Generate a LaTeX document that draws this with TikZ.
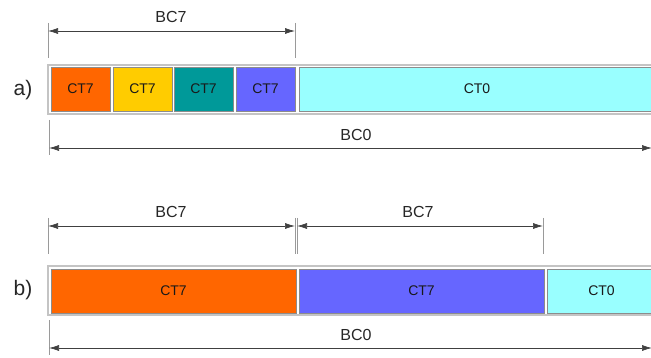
\documentclass[tikz,border=0pt]{standalone}
\usepackage{fontspec}
\setmainfont{Liberation Sans}
\usetikzlibrary{arrows.meta}
\definecolor{corange}{HTML}{FF6600}
\definecolor{cyellow}{HTML}{FFCC00}
\definecolor{cteal}{HTML}{009999}
\definecolor{cblue}{HTML}{6666FF}
\definecolor{ccyan}{HTML}{99FFFF}
\definecolor{segborder}{HTML}{8C8C8C}
\definecolor{framegray}{HTML}{C4C4C4}
\definecolor{extgray}{HTML}{9A9A9A}
\definecolor{dimline}{HTML}{404040}
\begin{document}
\begin{tikzpicture}[x=1pt,y=-1pt,
  seg/.style={draw=segborder, line width=0.9pt, inner sep=0pt, minimum height=44pt,
              font=\fontsize{14}{16}\selectfont, text=black!90},
  frame/.style={draw=framegray, line width=1.2pt},
  ext/.style={draw=extgray, line width=0.8pt},
  dimarrow/.style={draw=dimline, line width=0.7pt,
     {Latex[length=10pt,width=6pt]}-{Latex[length=10pt,width=6pt]}},
  lbl/.style={font=\fontsize{16}{18}\selectfont, text=black!85},
  rowlbl/.style={font=\fontsize{21}{23}\selectfont, text=black!85}]
\useasboundingbox (0,0) rectangle (651,358);

% ---------- row a ----------
\node[rowlbl] (la) at (23,90) {a)};
\draw[frame] (48,65) rectangle (656,114);
\node[seg, fill=corange, minimum width=59pt] (a1) at (80.5,89) {CT7};
\node[seg, fill=cyellow, minimum width=59pt] (a2) at (142.5,89) {CT7};
\node[seg, fill=cteal,   minimum width=59pt] (a3) at (203.5,89) {CT7};
\node[seg, fill=cblue,   minimum width=59pt] (a4) at (265.5,89) {CT7};
\node[seg, fill=ccyan,   minimum width=356pt] (a5) at (477,89) {CT0};

\coordinate (a7l) at (48,31);
\coordinate (a7r) at (295,31);
\draw[ext] (48,23) -- (48,58);
\draw[ext] (295,23) -- (295,58);
\draw[dimarrow] (a7l) -- (a7r);
\node[lbl] (bca7) at (171,17) {BC7};

\coordinate (a0l) at (49,148);
\coordinate (a0r) at (652,148);
\draw[ext] (49,120) -- (49,155);
\draw[dimarrow] (a0l) -- (a0r);
\node[lbl] (bca0) at (356,135) {BC0};

% ---------- row b ----------
\node[rowlbl] (lb) at (23,290) {b)};
\draw[frame] (48,266) rectangle (656,315);
\node[seg, fill=corange, minimum width=245pt] (b1) at (173.5,291) {CT7};
\node[seg, fill=cblue,   minimum width=245pt] (b2) at (421.5,291) {CT7};
\node[seg, fill=ccyan,   minimum width=109pt] (b3) at (601.5,291) {CT0};

\coordinate (b7l) at (48,226);
\coordinate (b7m1) at (295,226);
\coordinate (b7m2) at (297,226);
\coordinate (b7r) at (543,226);
\draw[ext] (48,218) -- (48,254);
\draw[ext] (295,218) -- (295,254);
\draw[ext] (297.5,218) -- (297.5,254);
\draw[ext] (543,218) -- (543,254);
\draw[dimarrow] (b7l) -- (b7m1);
\draw[dimarrow] (b7m2) -- (b7r);
\node[lbl] (bcb7a) at (171,212) {BC7};
\node[lbl] (bcb7b) at (418,212) {BC7};

\coordinate (b0l) at (49,348);
\coordinate (b0r) at (652,348);
\draw[ext] (49,320) -- (49,355);
\draw[dimarrow] (b0l) -- (b0r);
\node[lbl] (bcb0) at (356,335) {BC0};
\end{tikzpicture}
\end{document}
